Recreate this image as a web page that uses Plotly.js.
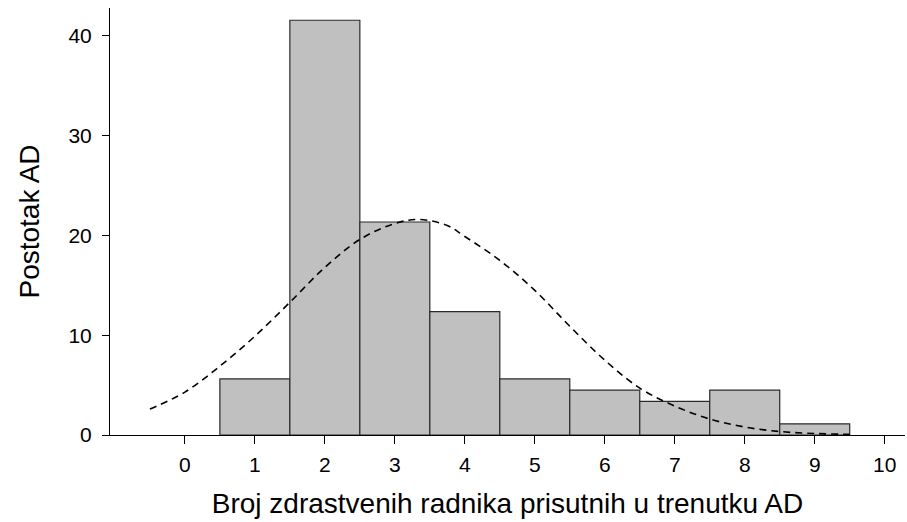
<!DOCTYPE html>
<html>
<head>
<meta charset="utf-8">
<script src="https://cdn.plot.ly/plotly-3.0.1.min.js"></script>
<style>html,body{margin:0;padding:0;background:#fff;}#chart{width:907px;height:522px;}</style>
</head>
<body>
<div id="chart"></div>
<script>
// Histogram: number of health workers present vs percentage of AD
var categories = [1, 2, 3, 4, 5, 6, 7, 8, 9];
var percentages = [5.62, 41.57, 21.35, 12.36, 5.62, 4.49, 3.37, 4.49, 1.12];

// Fitted normal curve
var curveX = [-0.5, 0, 0.5, 1, 1.5, 2, 2.5, 3, 3.35, 3.75, 4, 4.5, 5, 5.5, 6, 6.5, 7, 7.5, 8, 8.5, 9, 9.5];
var curveY = [2.6, 4.3, 6.9, 9.9, 13.3, 16.8, 19.6, 21.2, 21.6, 21.0, 19.9, 17.5, 14.5, 10.9, 7.5, 4.7, 2.9, 1.6, 0.8, 0.35, 0.15, 0.07];

var tickVals = [0, 1, 2, 3, 4, 5, 6, 7, 8, 9, 10];
var yTickVals = [0, 10, 20, 30, 40];

var font = "Liberation Sans, Arial, sans-serif";

var traces = [
  {
    type: 'bar',
    x: categories,
    y: percentages,
    width: 1,
    marker: {color: '#c0c0c0', line: {color: '#2a2a2a', width: 1.2}},
    hoverinfo: 'x+y'
  },
  {
    type: 'scatter',
    mode: 'lines',
    x: curveX,
    y: curveY,
    line: {color: '#000000', width: 1.6, dash: '7px,5px', shape: 'spline'},
    hoverinfo: 'skip'
  }
];

var layout = {
  width: 907,
  height: 522,
  margin: {l: 110, r: 2, t: 8, b: 87},
  paper_bgcolor: '#ffffff',
  plot_bgcolor: '#ffffff',
  showlegend: false,
  bargap: 0,
  font: {family: font, color: '#000000', size: 21},
  xaxis: {
    range: [-1.07, 10.29],
    tickvals: tickVals,
    ticktext: tickVals.map(String),
    ticks: 'outside',
    ticklen: 8,
    tickwidth: 1,
    tickcolor: '#000',
    ticklabelstandoff: 3,
    showline: true,
    linecolor: '#000',
    linewidth: 1,
    showgrid: false,
    zeroline: false,
    tickfont: {family: font, size: 21, color: '#000'},
    title: {text: 'Broj zdrastvenih radnika prisutnih u trenutku AD', font: {family: font, size: 28, color: '#000'}, standoff: 18}
  },
  yaxis: {
    range: [0, 42.8],
    tickvals: yTickVals,
    ticks: 'outside',
    ticklen: 7,
    tickwidth: 1,
    tickcolor: '#000',
    ticklabelstandoff: 6,
    showline: true,
    linecolor: '#000',
    linewidth: 1,
    showgrid: false,
    zeroline: false,
    tickfont: {family: font, size: 21, color: '#000'},
    title: {text: 'Postotak AD', font: {family: font, size: 28, color: '#000'}, standoff: 20}
  }
};

Plotly.newPlot('chart', traces, layout, {displayModeBar: false, staticPlot: true});
</script>
</body>
</html>
